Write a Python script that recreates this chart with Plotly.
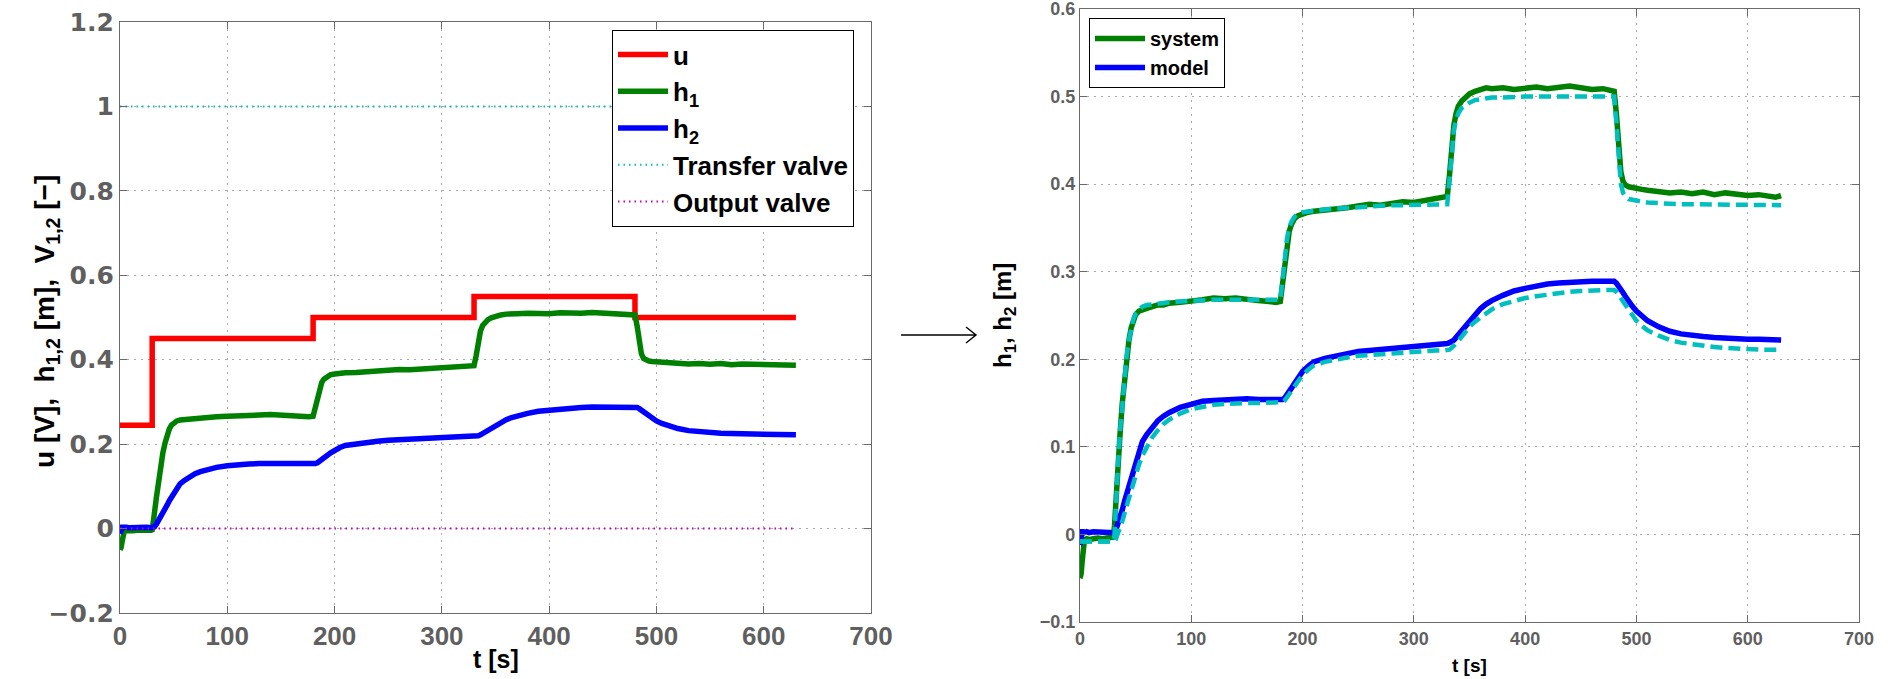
import plotly.graph_objects as go

# ---------------------------------------------------------------- data
# sample times [s] shared by the level traces
t = [0, 1, 2, 3, 4, 6, 8, 12, 16, 20, 25, 29,
     30, 31, 32, 34, 36, 38, 40, 42, 44, 46, 48, 50, 53, 56,
     60, 65, 70, 75, 80, 90, 100, 110, 120, 130, 140, 150, 160, 170, 176,
     180, 182, 184, 186, 188, 190, 193, 196, 200, 205, 210,
     220, 230, 240, 250, 260, 270, 280, 290, 300, 310, 320, 326,
     330, 332, 334, 336, 338, 340, 343, 346, 350, 355, 360, 365, 370,
     380, 390, 400, 410, 420, 430, 440, 450, 460, 470, 476,
     480, 482, 484, 486, 488, 490, 493, 496, 500, 505, 510,
     520, 530, 540, 550, 560, 570, 580, 590, 600, 610, 620, 625, 630]

# measured level of tank 1 [m]
h1 = [-0.050, -0.045, -0.030, -0.012, -0.006, -0.005, -0.006, -0.005, -0.004, -0.005, -0.004, -0.004,
      -0.003, 0.010, 0.035, 0.075, 0.115, 0.150, 0.180, 0.203, 0.222, 0.236, 0.245, 0.251, 0.255, 0.257,
      0.258, 0.260, 0.262, 0.262, 0.264, 0.265, 0.266, 0.268, 0.270, 0.269, 0.270, 0.268, 0.267, 0.266, 0.265,
      0.266, 0.285, 0.312, 0.333, 0.346, 0.354, 0.361, 0.364, 0.366, 0.368, 0.369,
      0.370, 0.372, 0.373, 0.375, 0.377, 0.376, 0.378, 0.380, 0.379, 0.381, 0.383, 0.385,
      0.386, 0.410, 0.445, 0.468, 0.481, 0.489, 0.495, 0.499, 0.503, 0.506, 0.508, 0.510, 0.509,
      0.510, 0.508, 0.509, 0.511, 0.509, 0.510, 0.512, 0.510, 0.508, 0.509, 0.507,
      0.506, 0.480, 0.440, 0.414, 0.403, 0.399, 0.397, 0.396, 0.395, 0.394, 0.393,
      0.392, 0.390, 0.391, 0.389, 0.391, 0.388, 0.390, 0.389, 0.387, 0.388, 0.386, 0.385, 0.387]

# measured level of tank 2 [m]
h2 = [-0.012, 0.001, 0.003, 0.003, 0.002, 0.003, 0.002, 0.003, 0.003, 0.002, 0.003, 0.002,
      0.002, 0.002, 0.004, 0.011, 0.019, 0.028, 0.038, 0.047, 0.056, 0.066, 0.075, 0.084, 0.096, 0.106,
      0.114, 0.123, 0.130, 0.135, 0.139, 0.145, 0.149, 0.152, 0.153, 0.154, 0.155, 0.155, 0.154, 0.154, 0.153,
      0.153, 0.154, 0.156, 0.159, 0.163, 0.167, 0.173, 0.179, 0.186, 0.192, 0.197,
      0.201, 0.204, 0.207, 0.209, 0.210, 0.211, 0.212, 0.214, 0.215, 0.216, 0.217, 0.218,
      0.218, 0.219, 0.220, 0.222, 0.225, 0.228, 0.233, 0.238, 0.245, 0.252, 0.258, 0.263, 0.267,
      0.273, 0.278, 0.281, 0.284, 0.286, 0.287, 0.288, 0.288, 0.289, 0.289, 0.289,
      0.289, 0.287, 0.284, 0.280, 0.276, 0.272, 0.266, 0.261, 0.255, 0.249, 0.244,
      0.237, 0.232, 0.229, 0.227, 0.226, 0.225, 0.224, 0.223, 0.223, 0.223, 0.222, 0.222, 0.222]

# simulated levels from the model [m]
m1 = [-0.008, -0.008, -0.008, -0.008, -0.008, -0.008, -0.008, -0.008, -0.008, -0.008, -0.008, -0.008,
      -0.008, 0.000, 0.030, 0.075, 0.118, 0.152, 0.182, 0.205, 0.222, 0.236, 0.246, 0.252, 0.257, 0.260,
      0.262, 0.263, 0.264, 0.265, 0.265, 0.266, 0.267, 0.268, 0.268, 0.268, 0.268, 0.268, 0.268, 0.268, 0.268,
      0.268, 0.290, 0.318, 0.338, 0.350, 0.357, 0.363, 0.366, 0.368, 0.369, 0.370,
      0.371, 0.372, 0.373, 0.374, 0.375, 0.375, 0.376, 0.376, 0.376, 0.377, 0.377, 0.377,
      0.377, 0.405, 0.440, 0.462, 0.474, 0.481, 0.487, 0.490, 0.493, 0.496, 0.497, 0.498, 0.499,
      0.499, 0.500, 0.500, 0.500, 0.500, 0.500, 0.500, 0.500, 0.500, 0.500, 0.500,
      0.500, 0.470, 0.425, 0.400, 0.390, 0.386, 0.383, 0.382, 0.381, 0.380, 0.379,
      0.378, 0.378, 0.377, 0.377, 0.377, 0.377, 0.377, 0.376, 0.376, 0.376, 0.376, 0.376, 0.376]

m2 = [-0.008, -0.008, -0.008, -0.008, -0.008, -0.008, -0.008, -0.008, -0.008, -0.008, -0.008, -0.008,
      -0.008, -0.008, -0.006, 0.000, 0.007, 0.015, 0.024, 0.033, 0.042, 0.051, 0.060, 0.068, 0.080, 0.090,
      0.100, 0.111, 0.119, 0.126, 0.131, 0.138, 0.143, 0.146, 0.148, 0.149, 0.150, 0.150, 0.150, 0.150, 0.150,
      0.150, 0.151, 0.153, 0.156, 0.160, 0.164, 0.170, 0.176, 0.182, 0.188, 0.193,
      0.197, 0.200, 0.202, 0.204, 0.205, 0.206, 0.207, 0.208, 0.209, 0.209, 0.210, 0.210,
      0.210, 0.211, 0.213, 0.215, 0.218, 0.221, 0.226, 0.231, 0.237, 0.243, 0.248, 0.253, 0.257,
      0.263, 0.267, 0.270, 0.272, 0.274, 0.276, 0.277, 0.278, 0.279, 0.279, 0.279,
      0.279, 0.277, 0.274, 0.270, 0.266, 0.262, 0.256, 0.250, 0.244, 0.238, 0.233,
      0.227, 0.222, 0.219, 0.217, 0.215, 0.214, 0.213, 0.212, 0.212, 0.211, 0.211, 0.211, 0.211]

# pump voltage steps (held until next time)
u_t = [0, 30, 180, 330, 480, 630]
u_v = [0.245, 0.45, 0.50, 0.55, 0.50, 0.50]

# valve positions
valve_t = [0, 630]
transfer_valve = [1, 1]
output_valve = [0, 0]

# axis ticks
x_ticks = [0, 100, 200, 300, 400, 500, 600, 700]
x_ticktext = ["0", "100", "200", "300", "400", "500", "600", "700"]
yl_ticks = [-0.2, 0, 0.2, 0.4, 0.6, 0.8, 1.0, 1.2]
yl_ticktext = ["\u22120.2", "0", "0.2", "0.4", "0.6", "0.8", "1", "1.2"]
yr_ticks = [-0.1, 0, 0.1, 0.2, 0.3, 0.4, 0.5, 0.6]
yr_ticktext = ["\u22120.1", "0", "0.1", "0.2", "0.3", "0.4", "0.5", "0.6"]

# ---------------------------------------------------------------- style
W, H = 1892, 679
FONT = "Liberation Sans"
WIDE_FONT = "DejaVu Sans"
RED, GREEN, BLUE = "#ff0000", "#008000", "#0000ff"
CYAN, MAGENTA = "#00bfbf", "#bf00bf"
AXIS_GRAY = "#6a6a6a"
TICK_GRAY = "#5f5f5f"


def px_x(p):
    return p / W


def px_y(p):
    return 1 - p / H


fig = go.Figure()

# left panel: inputs and levels
fig.add_trace(go.Scatter(x=u_t, y=u_v, mode="lines", line=dict(color=RED, width=5.5, shape="hv"),
                         name="u", xaxis="x", yaxis="y", legend="legend"))
fig.add_trace(go.Scatter(x=t, y=h1, mode="lines", line=dict(color=GREEN, width=5.5),
                         name="h<sub>1</sub>", xaxis="x", yaxis="y", legend="legend"))
fig.add_trace(go.Scatter(x=t, y=h2, mode="lines", line=dict(color=BLUE, width=5.5),
                         name="h<sub>2</sub>", xaxis="x", yaxis="y", legend="legend"))
fig.add_trace(go.Scatter(x=valve_t, y=transfer_valve, mode="lines",
                         line=dict(color=CYAN, width=2, dash="1.5px,4px"),
                         name="Transfer valve", xaxis="x", yaxis="y", legend="legend"))
fig.add_trace(go.Scatter(x=valve_t, y=output_valve, mode="lines",
                         line=dict(color=MAGENTA, width=2, dash="1.5px,4px"),
                         name="Output valve", xaxis="x", yaxis="y", legend="legend"))

# right panel: system vs model
fig.add_trace(go.Scatter(x=t, y=h1, mode="lines", line=dict(color=GREEN, width=5.5),
                         name="system", xaxis="x2", yaxis="y2", legend="legend2"))
fig.add_trace(go.Scatter(x=t, y=h2, mode="lines", line=dict(color=BLUE, width=5.5),
                         name="model", xaxis="x2", yaxis="y2", legend="legend2"))
fig.add_trace(go.Scatter(x=t, y=m1, mode="lines", line=dict(color=CYAN, width=4.5, dash="12px,6px"),
                         showlegend=False, xaxis="x2", yaxis="y2"))
fig.add_trace(go.Scatter(x=t, y=m2, mode="lines", line=dict(color=CYAN, width=4.5, dash="12px,6px"),
                         showlegend=False, xaxis="x2", yaxis="y2"))


def axis_style(tickvals, ticktext, rng, domain, family, size, anchor):
    return dict(
        domain=domain, range=rng, anchor=anchor,
        tickmode="array", tickvals=tickvals, ticktext=ticktext,
        tickfont=dict(family=family, size=size, color=TICK_GRAY, weight="bold"),
        ticklabeloverflow="allow",
        ticks="inside", ticklen=7, tickwidth=1, tickcolor=AXIS_GRAY,
        showline=True, linecolor=AXIS_GRAY, linewidth=1.3, mirror="allticks",
        showgrid=True, gridcolor="#aaaaaa", gridwidth=1, griddash="2px,5px",
        zeroline=False, automargin=False, fixedrange=True,
    )


left_x = [px_x(120), px_x(871)]
left_y = [px_y(613), px_y(22)]
right_x = [px_x(1080), px_x(1859)]
right_y = [px_y(622), px_y(9)]

fig.update_layout(
    width=W, height=H, autosize=False,
    margin=dict(l=0, r=0, t=0, b=0, pad=0),
    paper_bgcolor="white", plot_bgcolor="white",
    xaxis=axis_style(x_ticks, x_ticktext, [0, 700], left_x, FONT, 26, "y"),
    yaxis=axis_style(yl_ticks, yl_ticktext, [-0.2, 1.2], left_y, WIDE_FONT, 25, "x"),
    xaxis2=axis_style(x_ticks, x_ticktext, [0, 700], right_x, FONT, 18, "y2"),
    yaxis2=axis_style(yr_ticks, yr_ticktext, [-0.1, 0.6], right_y, FONT, 18, "x2"),
    legend=dict(
        x=px_x(612), y=px_y(30), xanchor="left", yanchor="top",
        bgcolor="white", bordercolor="black", borderwidth=1,
        font=dict(family=FONT, size=26, color="black", weight="bold"),
        tracegroupgap=0, itemwidth=50,
    ),
    legend2=dict(
        x=px_x(1089), y=px_y(18), xanchor="left", yanchor="top",
        bgcolor="white", bordercolor="black", borderwidth=1,
        font=dict(family=FONT, size=20, color="black", weight="bold"),
        tracegroupgap=0, itemwidth=50,
    ),
    showlegend=True,
)

nb = "\u00a0"
fig.add_annotation(
    text=f"u [V],{nb}{nb}h<sub>1,2</sub> [m],{nb}{nb}V<sub>1,2</sub> [\u2212]",
    xref="paper", yref="paper", x=px_x(46), y=px_y(322),
    xanchor="center", yanchor="middle", textangle=-90, showarrow=False,
    font=dict(family=FONT, size=28, color="black", weight="bold"),
)
fig.add_annotation(
    text="t [s]", xref="paper", yref="paper", x=px_x(495.5), y=px_y(659),
    xanchor="center", yanchor="middle", showarrow=False,
    font=dict(family=FONT, size=25, color="black", weight="bold"),
)
fig.add_annotation(
    text="h<sub>1</sub>, h<sub>2</sub> [m]",
    xref="paper", yref="paper", x=px_x(1004), y=px_y(316),
    xanchor="center", yanchor="middle", textangle=-90, showarrow=False,
    font=dict(family=FONT, size=24, color="black", weight="bold"),
)
fig.add_annotation(
    text="t [s]", xref="paper", yref="paper", x=px_x(1469.5), y=px_y(665),
    xanchor="center", yanchor="middle", showarrow=False,
    font=dict(family=FONT, size=19, color="black", weight="bold"),
)

# arrow between the two panels
ax0, ax1, ay = px_x(901), px_x(976), px_y(335)
hx, hy0, hy1 = px_x(966), px_y(327), px_y(343)
fig.add_shape(
    type="path", xref="paper", yref="paper",
    path=f"M {ax0},{ay} L {ax1},{ay} M {hx},{hy0} L {ax1},{ay} L {hx},{hy1}",
    line=dict(color="black", width=1.4),
)

fig.write_html("out.html")
